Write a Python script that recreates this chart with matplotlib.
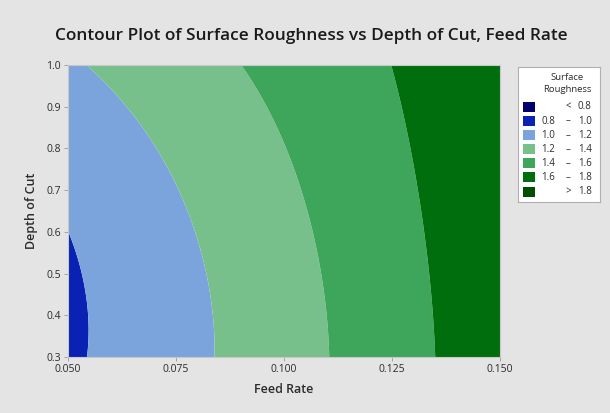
import numpy as np
import matplotlib
matplotlib.use("Agg")
import matplotlib.pyplot as plt
from matplotlib.patches import Rectangle

# Predictor ranges
feed_range = [0.05, 0.15]
depth_range = [0.30, 1.00]

# Points lying on each roughness contour (feed rate, depth of cut)
rough_10_feed = [0.05000, 0.05270, 0.05435, 0.05475, 0.05495]
rough_10_depth = [0.603, 0.503, 0.406, 0.350, 0.300]
rough_12_feed = [0.05470, 0.06360, 0.07130, 0.07670, 0.08055, 0.08250, 0.08365]
rough_12_depth = [1.002, 0.888, 0.783, 0.695, 0.583, 0.454, 0.300]
rough_14_feed = [0.08980, 0.09520, 0.10063, 0.10445, 0.10755, 0.10950, 0.11025]
rough_14_depth = [1.002, 0.904, 0.800, 0.695, 0.566, 0.438, 0.300]
rough_16_feed = [0.12495, 0.12840, 0.13070, 0.13305, 0.13455, 0.13535]
rough_16_depth = [1.002, 0.856, 0.695, 0.534, 0.373, 0.300]

# Contour levels and fill colours (one colour per band)
levels = [0.8, 1.0, 1.2, 1.4, 1.6, 1.8]
band_colors = ["#00006e", "#0a22b4", "#7ba4dc", "#78c08b",
               "#3ea65b", "#006e0c", "#004f00"]

x_ticks = [0.050, 0.075, 0.100, 0.125, 0.150]
x_tick_labels = ["0.050", "0.075", "0.100", "0.125", "0.150"]
y_ticks = [0.3, 0.4, 0.5, 0.6, 0.7, 0.8, 0.9, 1.0]
y_tick_labels = ["0.3", "0.4", "0.5", "0.6", "0.7", "0.8", "0.9", "1.0"]

BG = "#e4e4e4"
TXT = "#2b2b2b"
plt.rcParams["font.family"] = ["Open Sans", "DejaVu Sans"]


def coded(f, d):
    return (np.asarray(f) - 0.10) / 0.05, (np.asarray(d) - 0.65) / 0.35


def terms(u, v):
    return np.stack([np.ones_like(u), u, v, u * u, v * v, u * v,
                     u ** 3, v ** 3, u * u * v, u * v * v], axis=-1)


# Fit a cubic response surface through the contour points
pts_f = np.concatenate([rough_10_feed, rough_12_feed, rough_14_feed, rough_16_feed])
pts_d = np.concatenate([rough_10_depth, rough_12_depth, rough_14_depth, rough_16_depth])
pts_z = np.concatenate([np.full(len(rough_10_feed), 1.0), np.full(len(rough_12_feed), 1.2),
                        np.full(len(rough_14_feed), 1.4), np.full(len(rough_16_feed), 1.6)])
pu, pv = coded(pts_f, pts_d)
coef, *_ = np.linalg.lstsq(terms(pu, pv), pts_z, rcond=None)

fig = plt.figure(figsize=(6.10, 4.13), dpi=100, facecolor=BG)
ax = fig.add_axes([68 / 610, 1 - 357 / 413, 432 / 610, 292 / 413])

feed = np.linspace(*feed_range, 400)
depth = np.linspace(*depth_range, 400)
F, D = np.meshgrid(feed, depth)
U, V = coded(F, D)
Z = terms(U, V) @ coef

bounds = [min(Z.min(), levels[0]) - 1] + levels + [max(Z.max(), levels[-1]) + 1]
ax.contourf(F, D, Z, levels=bounds, colors=band_colors, antialiased=True)

ax.set_xlim(*feed_range)
ax.set_ylim(*depth_range)
ax.set_xticks(x_ticks)
ax.set_xticklabels(x_tick_labels)
ax.set_yticks(y_ticks)
ax.set_yticklabels(y_tick_labels)
ax.tick_params(axis="both", length=3, width=0.6, color="#9a9a9a",
               labelsize=7.5, labelcolor=TXT, pad=2)
for s in ax.spines.values():
    s.set_color("#c8c8c8")
    s.set_linewidth(0.8)

ax.set_xlabel("Feed Rate", fontsize=9, fontweight="semibold", color=TXT, labelpad=6)
ax.set_ylabel("Depth of Cut", fontsize=9, fontweight="semibold", color=TXT, labelpad=6)
fig.text(311 / 610, 1 - 36 / 413,
         "Contour Plot of Surface Roughness vs Depth of Cut, Feed Rate",
         ha="center", va="center", fontsize=12.4, fontweight="semibold", color="#1a1a1a")

# Legend panel
lg = fig.add_axes([518 / 610, 1 - 202 / 413, 82 / 610, 135 / 413])
lg.set_xlim(518, 600)
lg.set_ylim(202, 67)
lg.set_facecolor("white")
lg.set_xticks([])
lg.set_yticks([])
for s in lg.spines.values():
    s.set_color("#b0b0b0")
    s.set_linewidth(0.8)
lg.text(567, 78, "Surface", ha="center", va="center", fontsize=6.8, color=TXT)
lg.text(567, 90, "Roughness", ha="center", va="center", fontsize=6.8, color=TXT)

labels = [("", "<", f"{levels[0]:.1f}")]
for lo, hi in zip(levels[:-1], levels[1:]):
    labels.append((f"{lo:.1f}", "\u2013", f"{hi:.1f}"))
labels.append(("", ">", f"{levels[-1]:.1f}"))

for i, (color, (lo, sym, hi)) in enumerate(zip(band_colors, labels)):
    yc = 107 + i * 14.1
    lg.add_patch(Rectangle((522.5, yc - 5), 12, 10, facecolor=color,
                           edgecolor="none"))
    if lo:
        lg.text(541.5, yc, lo, ha="left", va="center", fontsize=7, color=TXT)
    lg.text(568, yc, sym, ha="center", va="center", fontsize=7, color=TXT)
    lg.text(578, yc, hi, ha="left", va="center", fontsize=7, color=TXT)

fig.savefig("out.png", dpi=100, facecolor=BG)
